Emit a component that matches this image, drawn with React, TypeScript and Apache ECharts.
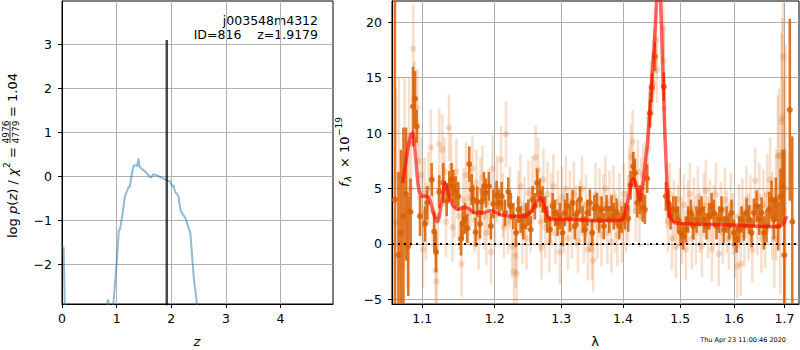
import React, { useEffect, useRef } from "react";
import * as echarts from "echarts";

const FONT = "DejaVu Sans";

// ---------- left panel: log p(z) ----------
const pzZ = [0, 0.03, 0.06, 0.8, 0.82, 0.835, 0.85, 0.865, 0.92, 0.94, 1.0, 1.04, 1.06, 1.11, 1.15, 1.21, 1.24, 1.28, 1.31, 1.36, 1.38, 1.4, 1.42, 1.46, 1.52, 1.58, 1.63, 1.67, 1.74, 1.86, 1.98, 2.02, 2.04, 2.06, 2.08, 2.1, 2.13, 2.17, 2.2, 2.26, 2.32, 2.35, 2.41, 2.47, 2.52, 4.96];
const pzLogP = [-1.6, -1.62, -3.5, -3.5, -3.2, -2.8, -2.85, -3.2, -3.3, -2.9, -1.97, -1.22, -1.21, -0.84, -0.46, -0.27, -0.23, 0.07, 0.24, 0.26, 0.22, 0.41, 0.22, 0.17, 0.11, 0.03, -0.03, 0.05, 0.02, -0.05, -0.12, -0.23, -0.2, -0.31, -0.37, -0.39, -0.44, -0.77, -0.84, -0.95, -1.18, -1.3, -2.28, -2.9, -3.5, -3.5];
const zBest = 1.9179;
const zLineTop = 3.1;
const pzXTicks = [0, 1, 2, 3, 4];
const pzYTicks = [-2, -1, 0, 1, 2, 3];
const pzXRange = [0, 4.96];
const pzYRange = [-2.9, 3.985];

// ---------- right panel: spectrum ----------
const specXTicks = [1.1, 1.2, 1.3, 1.4, 1.5, 1.6, 1.7];
const specYTicks = [-5, 0, 5, 10, 15, 20];
const specLamRange = [1.0607, 1.7300];
const specYRange = [-5.424, 21.92];

const modelLam = [1.0744, 1.0796, 1.0848, 1.0874, 1.0904, 1.0948, 1.0992, 1.1058, 1.1102, 1.1147, 1.1201, 1.126, 1.1305, 1.1349, 1.1417, 1.1486, 1.1556, 1.1625, 1.1719, 1.1837, 1.1932, 1.2005, 1.2102, 1.2272, 1.242, 1.252, 1.2595, 1.2671, 1.2722, 1.2784, 1.2851, 1.3189, 1.3537, 1.3978, 1.4062, 1.4175, 1.4233, 1.4289, 1.4375, 1.4433, 1.4492, 1.4549, 1.4585, 1.4612, 1.464, 1.4685, 1.4725, 1.4766, 1.4813, 1.4902, 1.5265, 1.5984, 1.6839, 1.6976, 1.7046];
const modelFlux = [5.5, 7.9, 9.85, 10.0, 8.5, 5.2, 4.3, 4.3, 4.0, 2.8, 2.0, 3.7, 5.5, 4.6, 3.4, 3.1, 3.3, 3.2, 2.8, 2.8, 3.0, 2.9, 2.6, 2.5, 2.5, 2.8, 3.5, 4.2, 3.7, 2.5, 2.2, 2.2, 2.1, 2.15, 3.4, 5.9, 5.2, 4.0, 7.0, 10.0, 14.6, 19.0, 22.5, 23.8, 23.0, 16.0, 10.0, 5.2, 2.5, 1.9, 1.8, 1.7, 1.55, 1.8, 2.5];

// binned spectrum: [lambda, flux, error]
const binned: number[][] = [
  [1.0644, 4, 20], [1.069, -1, 7.5], [1.0722, 1, 7.5], [1.0754, 2.5, 8], [1.0787, 4.5, 6], [1.0817, -0.2, 4.5],
  [1.0846, 2.9, 3], [1.0878, 12.4, 3.6], [1.0904, 13.1, 2.5], [1.0926, 10.6, 1.5], [1.097, 2.5, 1.8], [1.1036, 1.8, 1.6],
  [1.1066, 3.7, 1.5], [1.1125, 5.8, 1.5], [1.116, 1.1, 1.8], [1.1183, -0.75, 1.8], [1.1228, 4.7, 1.5], [1.1282, 5.5, 1.8],
  [1.1328, 4.0, 1.5], [1.1363, 5.2, 1.4], [1.1395, 5.8, 1.5], [1.1418, 5.2, 1.5], [1.145, 4.7, 1.4], [1.1486, 4.3, 1.3],
  [1.1524, 0.45, 1.5], [1.1547, 1.9, 1.5], [1.1579, 2.3, 1.4], [1.1611, 1.4, 1.3], [1.1639, 7.2, 1.6], [1.1673, 4.9, 1.4],
  [1.1695, 4.0, 1.3], [1.1729, 1.05, 1.3], [1.1752, 3.8, 1.4], [1.179, 1.8, 1.3], [1.1814, 3.8, 1.2], [1.1847, 5.2, 1.3],
  [1.1875, 4.6, 1.3], [1.1918, 5.2, 1.3], [1.1946, 1.6, 1.2], [1.198, 3.6, 1.3], [1.2029, 4.4, 1.3], [1.2067, 3.7, 1.2],
  [1.2102, 4.3, 1.3], [1.215, 2.8, 1.2], [1.2198, 4.7, 1.3], [1.2233, 3.4, 1.2], [1.2272, 2.5, 1.2], [1.2312, 1.0, 1.3],
  [1.2346, 3.1, 1.2], [1.2381, 2.2, 1.2], [1.242, 1.6, 1.2], [1.246, 2.5, 1.2], [1.2495, 2.8, 1.2], [1.2531, 1.3, 1.2],
  [1.2561, 4.0, 1.2], [1.2595, 3.4, 1.2], [1.263, 5.5, 1.3], [1.2671, 4.6, 1.3], [1.2712, 4.0, 1.2], [1.2748, 3.1, 1.2],
  [1.2783, 2.2, 1.2], [1.2825, 1.3, 1.2], [1.2866, 3.4, 1.2], [1.2902, 2.8, 1.2], [1.2943, 1.9, 1.2], [1.2979, 2.5, 1.2],
  [1.3021, 1.0, 1.2], [1.3057, 2.8, 1.2], [1.3093, 3.4, 1.2], [1.3136, 2.3, 1.2], [1.3179, 3.7, 1.2], [1.3215, 1.6, 1.2],
  [1.3252, 2.8, 1.2], [1.3295, 4.0, 1.2], [1.3338, 2.2, 1.2], [1.3376, 1.3, 1.2], [1.3413, 2.8, 1.2], [1.3456, 3.7, 1.2],
  [1.3493, 1.0, 1.2], [1.3526, 3.2, 1.2], [1.3565, 3.4, 1.2], [1.3607, 2.2, 1.2], [1.3646, 3.1, 1.2], [1.3684, 1.6, 1.2],
  [1.3728, 3.2, 1.2], [1.3771, 2.2, 1.2], [1.3811, 3.2, 1.2], [1.3849, 2.5, 1.2], [1.3894, 2.9, 1.2], [1.3938, 1.6, 1.2],
  [1.3978, 2.2, 1.2], [1.4034, 2.5, 1.2], [1.409, 2.3, 1.2], [1.413, 5.3, 1.3], [1.4175, 7.0, 1.3], [1.4204, 6.4, 1.3],
  [1.4243, 3.7, 1.3], [1.4289, 4.0, 1.3], [1.4336, 3.3, 1.3], [1.4375, 3.1, 1.3], [1.4415, 5.9, 1.3], [1.4462, 11.8, 1.3],
  [1.4497, 14.1, 1.3], [1.4549, 16.9, 1.3], [1.4707, 14.2, 1.3], [1.4742, 4.3, 1.3], [1.4783, 3.7, 1.3], [1.4825, 2.5, 1.2],
  [1.4872, 3.1, 1.2], [1.492, 3.1, 1.2], [1.4961, 2.2, 1.2], [1.5004, 1.0, 1.2], [1.5051, 0.7, 1.2], [1.51, 1.3, 1.2],
  [1.5142, 2.2, 1.2], [1.5191, 2.8, 1.2], [1.5233, 1.6, 1.2], [1.5296, 2.2, 1.2], [1.5344, 2.8, 1.2], [1.5388, 3.1, 1.2],
  [1.5431, 2.2, 1.2], [1.548, 1.6, 1.2], [1.5529, 2.5, 1.2], [1.5574, 3.4, 1.2], [1.5617, 2.8, 1.2], [1.5667, 1.6, 1.2],
  [1.5717, 2.2, 1.2], [1.5762, 3.1, 1.2], [1.5806, 1.3, 1.2], [1.5857, 2.2, 1.2], [1.5907, 1.6, 1.2], [1.5953, 2.8, 1.2],
  [1.5997, 1.0, 1.2], [1.6049, 0.4, 1.2], [1.6099, 1.3, 1.2], [1.6146, 2.2, 1.2], [1.6191, 1.6, 1.3], [1.6244, 2.8, 1.3],
  [1.6294, 2.2, 1.3], [1.6341, 1.0, 1.3], [1.6387, 2.8, 1.3], [1.644, 3.4, 1.4], [1.6491, 2.2, 1.4], [1.6539, 2.8, 1.4],
  [1.6584, 1.0, 1.5], [1.6638, 1.6, 1.5], [1.669, 3.1, 1.6], [1.6738, 4.0, 1.7], [1.6784, 2.2, 1.8], [1.6825, 4.0, 2.0],
  [1.6871, 1.6, 2.2], [1.692, 4.3, 2.5], [1.6961, 5.2, 3.3], [1.6998, -1, 9.5], [1.711, 12.1, 8.2], [1.7161, 2, 7.7],
];

// individual (unbinned) pixels: [lambda, flux, error]
const unbinned: number[][] = [
  [1.0657, 2, 12], [1.0696, 6, 9], [1.0735, -2, 8], [1.0768, 8, 7], [1.08, 3, 7], [1.0826, 9, 6], [1.0852, 5, 5],
  [1.0882, 17.6, 4], [1.0897, 13, 3.5], [1.0934, 12.3, 3.5], [1.095, 7.5, 3.5], [1.0983, 6.2, 3.4], [1.101, -0.5, 3.5],
  [1.103, 4.5, 3.3], [1.1049, 2.0, 3.5], [1.1082, 5.0, 3.3], [1.1115, 8.7, 3.4], [1.1142, 3.0, 3.3], [1.1178, -2.4, 3.5],
  [1.1192, -3.4, 3.4], [1.1209, 2.5, 3.2], [1.1227, 9.0, 3.2], [1.1268, 8.5, 3.2], [1.1298, 6.5, 3.1], [1.1318, 2.0, 3.2],
  [1.1359, 10.5, 3.0], [1.1386, 7.0, 3.0], [1.1406, 1.5, 3.1], [1.1434, 3.5, 2.9], [1.1461, 6.5, 3.0], [1.1496, 2.5, 3.0],
  [1.1533, -1.8, 3.0], [1.1558, 4.0, 2.9], [1.1593, 6.2, 3.0], [1.1628, 2.8, 2.9], [1.1656, 4.2, 3.0], [1.1684, 6.8, 3.0],
  [1.1712, 2.2, 2.9], [1.174, 5.5, 3.0], [1.1769, 0.6, 2.9], [1.1797, 4.8, 3.0], [1.1825, 6.0, 2.9], [1.1853, 2.5, 3.0],
  [1.1882, 1.0, 2.9], [1.1911, 3.8, 3.0], [1.1946, -0.75, 2.9], [1.1968, 6.8, 3.0], [1.2004, 2.6, 2.9], [1.2033, 5.0, 3.0],
  [1.2092, 7.6, 3.0], [1.2121, 3.5, 2.9], [1.2135, 1.5, 2.8], [1.2165, 9.9, 3.0], [1.2194, 2.0, 2.9], [1.2223, 4.2, 2.8],
  [1.2253, -0.2, 2.9], [1.2282, -2.5, 3.0], [1.2307, -1.05, 2.9], [1.2322, -2.7, 3.0], [1.2349, 3.8, 2.8], [1.2378, 5.2, 2.9],
  [1.2408, 1.0, 2.8], [1.2438, 3.2, 2.9], [1.2468, 0.5, 2.8], [1.2498, 4.6, 2.9], [1.2528, 2.0, 2.8], [1.2558, 5.0, 2.9],
  [1.2605, 7.8, 2.9], [1.2645, 6.7, 2.9], [1.2678, 2.0, 2.8], [1.2697, -0.3, 2.9], [1.2724, 5.8, 2.8], [1.2755, 1.5, 2.8],
  [1.2786, 4.5, 2.9], [1.2817, 0.2, 2.8], [1.2848, 3.6, 2.8], [1.2879, 5.2, 2.9], [1.291, 1.0, 2.8], [1.2948, 3.8, 2.8],
  [1.2979, -0.75, 2.9], [1.3011, 4.2, 2.8], [1.3042, 2.0, 2.8], [1.3073, 5.0, 2.9], [1.3104, 0.5, 2.8], [1.3136, 3.8, 2.8],
  [1.3168, 1.5, 2.8], [1.3199, 4.5, 2.9], [1.3231, 2.5, 2.8], [1.3263, 0.2, 2.8], [1.3295, 3.0, 2.8], [1.3327, 5.0, 2.9],
  [1.3359, 1.0, 2.8], [1.3391, 3.5, 2.8], [1.3424, -0.5, 2.8], [1.3456, 2.2, 2.9], [1.3484, -0.5, 2.8], [1.351, -1.5, 2.8],
  [1.3546, 4.5, 2.8], [1.3578, 1.5, 2.9], [1.3611, 4.0, 2.8], [1.3643, 0.8, 2.8], [1.3676, 3.5, 2.8], [1.3709, 5.0, 2.9],
  [1.3742, 1.0, 2.8], [1.3775, 3.8, 2.8], [1.3808, 0.2, 2.8], [1.3841, 4.2, 2.9], [1.3874, 2.0, 2.8], [1.3908, 0.8, 2.8],
  [1.3941, 3.6, 2.8], [1.3983, 1.2, 2.9], [1.4017, 4.5, 2.8], [1.4051, 2.0, 2.8], [1.4085, 3.0, 2.8], [1.411, 6.0, 2.9],
  [1.4136, 7.9, 2.9], [1.4165, 9.2, 2.9], [1.4195, 5.5, 2.8], [1.4221, 3.0, 2.8], [1.4255, 6.5, 2.9], [1.4281, 2.5, 2.8],
  [1.4315, 5.0, 2.8], [1.4349, 6.2, 2.9], [1.4384, 5.5, 2.8], [1.4422, 8.5, 2.9], [1.4453, 11.5, 2.9], [1.4479, 13.5, 2.9],
  [1.4514, 14.5, 2.9], [1.4532, 16.5, 2.9], [1.4567, 18.4, 3.0], [1.4584, 15.7, 3.0], [1.4697, 19.5, 3.0], [1.4706, 16.5, 3.0],
  [1.4715, 12.2, 2.9], [1.4757, 4.3, 2.9], [1.478, 2.0, 2.8], [1.4813, 4.5, 2.8], [1.4849, 0.5, 2.9], [1.4884, 3.0, 2.8],
  [1.492, -0.3, 2.8], [1.4956, 2.5, 2.8], [1.4992, 4.0, 2.9], [1.5028, 1.0, 2.8], [1.5064, 3.5, 2.8], [1.51, -0.5, 2.8],
  [1.5136, 2.8, 2.9], [1.5173, 4.5, 2.8], [1.521, 0.5, 2.8], [1.5246, 3.2, 2.8], [1.5283, 1.0, 2.9], [1.532, 4.2, 2.8],
  [1.5357, 2.0, 2.8], [1.5394, -0.2, 2.8], [1.5431, 3.5, 2.9], [1.5468, 4.8, 2.8], [1.5505, 1.5, 2.8], [1.5542, 3.0, 2.8],
  [1.558, -0.5, 2.9], [1.5617, 2.5, 2.8], [1.5655, 4.5, 2.8], [1.5711, -0.9, 2.9], [1.5749, 2.8, 2.8], [1.5787, 1.0, 2.8],
  [1.5825, 4.0, 2.9], [1.5863, 2.0, 2.8], [1.5901, 0.5, 2.8], [1.594, 3.5, 2.9], [1.5978, 1.8, 2.8], [1.6017, -0.2, 2.9],
  [1.6061, -2.0, 2.9], [1.6094, 2.5, 2.9], [1.6127, -1.8, 2.9], [1.6162, 3.0, 2.9], [1.6201, 0.8, 2.9], [1.624, 4.0, 3.0],
  [1.6279, 1.5, 3.0], [1.6318, 3.2, 3.0], [1.6357, -0.5, 3.0], [1.6412, 5.7, 3.0], [1.6456, 2.0, 3.0], [1.6495, 4.2, 3.1],
  [1.6535, 0.5, 3.1], [1.6575, 3.5, 3.2], [1.6614, 1.2, 3.4], [1.6654, 4.5, 3.6], [1.671, 5.8, 3.8], [1.6754, 2.5, 4.0],
  [1.6794, 0.5, 4.5], [1.6834, 3.5, 5.0], [1.6865, 7.9, 5.5], [1.6891, 8.0, 6.0], [1.6916, 2.0, 6.5], [1.694, 11.0, 8.0],
  [1.6957, 11.4, 9.0], [1.6973, 16.9, 10.0], [1.6988, 3, 12], [1.7022, 5.0, 13],
];

const ORANGE = "rgb(217,95,2)";

function errRender(opacity: number, r: number, lw: number) {
  return (params: any, api: any) => {
    const x = api.value(0);
    const y = api.value(1);
    const e = api.value(2);
    const c = api.coord([x, y]);
    const hi = api.coord([x, y + e]);
    const lo = api.coord([x, y - e]);
    return {
      type: "group",
      children: [
        { type: "line", shape: { x1: c[0], y1: hi[1], x2: c[0], y2: lo[1] }, style: { stroke: ORANGE, lineWidth: lw, opacity } },
        { type: "circle", shape: { cx: c[0], cy: c[1], r }, style: { fill: ORANGE, opacity } },
      ],
    };
  };
}

const minus = (s: string) => s.replace("-", "\u2212");

function txt(text: string, x: number, y: number, size: number, opts: any = {}) {
  return {
    type: "text",
    x,
    y,
    style: {
      text,
      fill: "#000",
      fontSize: size,
      fontFamily: FONT,
      fontStyle: opts.italic ? "italic" : "normal",
      align: opts.align || "left",
      textAlign: opts.align || "left",
      verticalAlign: "middle",
      textVerticalAlign: "middle",
    },
  };
}

function buildOption() {
  const lg = (v: number) => Math.log10(v);
  const xTicksLog = specXTicks.map(lg);
  const axisLine = { show: true, onZero: false, lineStyle: { color: "#000", width: 1 } };
  const splitLine = { show: true, lineStyle: { color: "#b0b0b0", width: 1 } };
  const tick = (vals: number[]) => ({ show: true, inside: false, length: 4, customValues: vals, lineStyle: { color: "#000", width: 1 } });
  const labelBase = { color: "#000", fontSize: 12.5, fontFamily: FONT };

  return {
    animation: false,
    backgroundColor: "#fff",
    textStyle: { fontFamily: FONT },
    grid: [
      { left: 62, top: 1, width: 271, height: 303, show: true, borderColor: "#000", borderWidth: 1, backgroundColor: "transparent", outerBoundsMode: "none" },
      { left: 392, top: 1, width: 407, height: 303, show: true, borderColor: "#000", borderWidth: 1, backgroundColor: "transparent", outerBoundsMode: "none" },
    ],
    xAxis: [
      {
        type: "value", gridIndex: 0, min: pzXRange[0], max: pzXRange[1],
        axisLine, splitLine, axisTick: tick(pzXTicks),
        axisLabel: { ...labelBase, customValues: pzXTicks, margin: 8, formatter: (v: number) => minus(String(v)) },
      },
      {
        type: "value", gridIndex: 1, min: lg(specLamRange[0]), max: lg(specLamRange[1]),
        axisLine, splitLine, axisTick: tick(xTicksLog),
        axisLabel: { ...labelBase, customValues: xTicksLog, margin: 8, formatter: (v: number) => Math.pow(10, v).toFixed(1) },
      },
    ],
    yAxis: [
      {
        type: "value", gridIndex: 0, min: pzYRange[0], max: pzYRange[1],
        axisLine, splitLine, axisTick: tick(pzYTicks),
        axisLabel: { ...labelBase, customValues: pzYTicks, margin: 10, formatter: (v: number) => minus(String(v)) },
      },
      {
        type: "value", gridIndex: 1, min: specYRange[0], max: specYRange[1],
        axisLine, splitLine, axisTick: tick(specYTicks),
        axisLabel: { ...labelBase, customValues: specYTicks, margin: 10, formatter: (v: number) => minus(String(v)) },
      },
    ],
    series: [
      {
        type: "line", xAxisIndex: 0, yAxisIndex: 0, clip: true, symbol: "none",
        data: pzZ.map((z, i) => [z, pzLogP[i]]),
        lineStyle: { color: "rgba(31,119,180,0.5)", width: 2 },
      },
      {
        type: "line", xAxisIndex: 0, yAxisIndex: 0, clip: true, symbol: "none",
        data: [[zBest, pzYRange[0] - 1], [zBest, zLineTop]],
        lineStyle: { color: "rgba(0,0,0,0.72)", width: 2.5 },
      },
      {
        type: "custom", xAxisIndex: 1, yAxisIndex: 1, clip: true,
        renderItem: errRender(0.2, 3.3, 2.6),
        encode: { x: 0, y: 1 },
        data: unbinned.map((d) => [lg(d[0]), d[1], d[2]]),
      },
      {
        type: "custom", xAxisIndex: 1, yAxisIndex: 1, clip: true,
        renderItem: errRender(0.85, 3, 2.6),
        encode: { x: 0, y: 1 },
        data: binned.map((d) => [lg(d[0]), d[1], d[2]]),
      },
      {
        type: "line", xAxisIndex: 1, yAxisIndex: 1, clip: true, symbol: "none", smooth: 0.25,
        data: modelLam.map((l, i) => [lg(l), modelFlux[i]]),
        lineStyle: { color: "rgba(255,0,0,0.6)", width: 3.5 },
      },
      {
        type: "line", xAxisIndex: 1, yAxisIndex: 1, clip: true, symbol: "none",
        data: [[lg(specLamRange[0]), 0], [lg(specLamRange[1]), 0]],
        lineStyle: { color: "#000", width: 2, type: [2, 4] },
      },
    ],
    graphic: [
      txt("j003548m4312", 318, 20, 12.5, { align: "right" }),
      txt("ID=816\u00a0\u00a0\u00a0\u00a0z=1.9179", 318, 34.5, 12.5, { align: "right" }),
      txt("z", 197, 341, 13, { italic: true, align: "center" }),
      txt("\u03bb", 595, 341, 13, { align: "center" }),
      txt("Thu Apr 23 11:00:46 2020", 786, 340, 6.5, { align: "right" }),
      {
        type: "group", x: 12, y: 238, rotation: Math.PI / 2,
        children: [
          txt("log", 0, 0, 13),
          txt("p", 24, 0, 13, { italic: true }),
          txt("(", 32.3, 0, 13),
          txt("z", 37.4, 0, 13, { italic: true }),
          txt(")", 44.2, 0, 13),
          txt("/", 53.5, 0, 13),
          txt("\u03c7", 62, 0, 13, { italic: true }),
          txt("2", 70, -5, 9),
          txt("=", 80, 0, 13),
          txt("4976", 106, -6, 9, { align: "center" }),
          { type: "line", shape: { x1: 95, y1: -2, x2: 117, y2: -2 }, style: { stroke: "#000", lineWidth: 0.8 } },
          txt("4779", 106, 3.5, 9, { align: "center" }),
          txt("=", 121, 0, 13),
          txt("1.04", 136, 0, 13),
        ],
      },
      {
        type: "group", x: 344, y: 187, rotation: Math.PI / 2,
        children: [
          txt("f", 0, 0, 13, { italic: true }),
          txt("\u03bb", 5.5, 3.5, 9.5, { italic: true }),
          txt("\u00d7", 19, 0, 13),
          txt("10", 34, 0, 13),
          txt("\u221219", 51, -5.5, 9),
        ],
      },
    ],
  };
}

export default function App() {
  const ref = useRef<HTMLDivElement>(null);
  useEffect(() => {
    if (!ref.current) return;
    const chart = echarts.init(ref.current, null, { renderer: "svg", width: 800, height: 350 });
    chart.setOption(buildOption() as any);
    return () => chart.dispose();
  }, []);
  return <div ref={ref} style={{ position: "fixed", left: 0, top: 0, width: 800, height: 350 }} />;
}
